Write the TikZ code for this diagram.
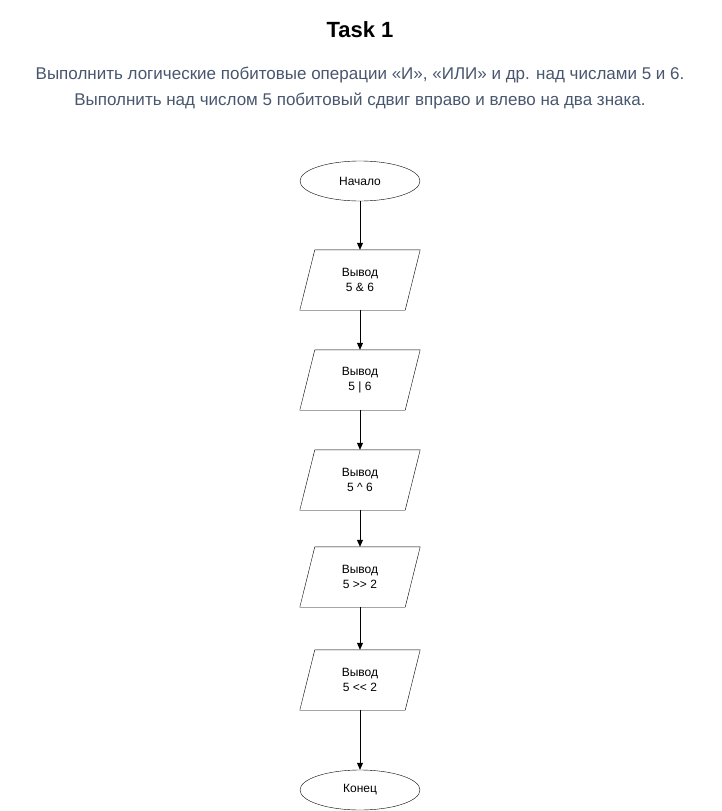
\documentclass[tikz,border=0pt]{standalone}
\usepackage{fontspec}
\setmainfont{Liberation Sans}
\usetikzlibrary{shapes.geometric,arrows.meta}
\definecolor{subtext}{RGB}{72,86,110}

\begin{document}
\begin{tikzpicture}[x=1pt, y=-1pt,
    term/.style={ellipse, draw, minimum width=120pt, minimum height=40pt, inner sep=0pt, font=\fontsize{12}{15}\selectfont},
    io/.style={rectangle, minimum width=120pt, minimum height=60pt, inner sep=0pt, align=center, font=\fontsize{12}{15}\selectfont},
    flow/.style={-{Triangle[length=7pt,width=6pt]}, thick}]
    \useasboundingbox (0, 0) rectangle (721, 811);

    % заголовок и описание
    \node[font=\bfseries\fontsize{22}{26}\selectfont] (title) at (360, 30) {Task 1};
    \node[text=subtext, font=\fontsize{17}{26}\selectfont, align=center] (descr) at (360, 88)
      {Выполнить логические побитовые операции «И», «ИЛИ» и др. над числами 5 и 6.\\
       Выполнить над числом 5 побитовый сдвиг вправо и влево на два знака.};

    \node[term] (start) at (360, 181) {Начало};
    \node[io] (and) at (360, 280) {Вывод\\5 \& 6};
    \node[io] (or) at (360, 380) {Вывод\\5 | 6};
    \node[io] (xor) at (360, 480) {Вывод\\5 \^{} 6};
    \node[io] (shr) at (360, 577) {Вывод\\5 >\kern0pt> 2};
    \node[io] (shl) at (360, 680) {Вывод\\5 <\kern0pt< 2};
    \node[term] (stop) at (360, 790) {Конец};

    % параллелограммы ввода-вывода
    \foreach \n in {and, or, xor, shr, shl}
      \draw ([xshift=15pt]\n.north west) -- (\n.north east) -- ([xshift=-15pt]\n.south east) -- (\n.south west) -- cycle;

    \draw[flow] (start) -- (and);
    \draw[flow] (and) -- (or);
    \draw[flow] (or) -- (xor);
    \draw[flow] (xor) -- (shr);
    \draw[flow] (shr) -- (shl);
    \draw[flow] (shl) -- (stop);
\end{tikzpicture}
\end{document}
